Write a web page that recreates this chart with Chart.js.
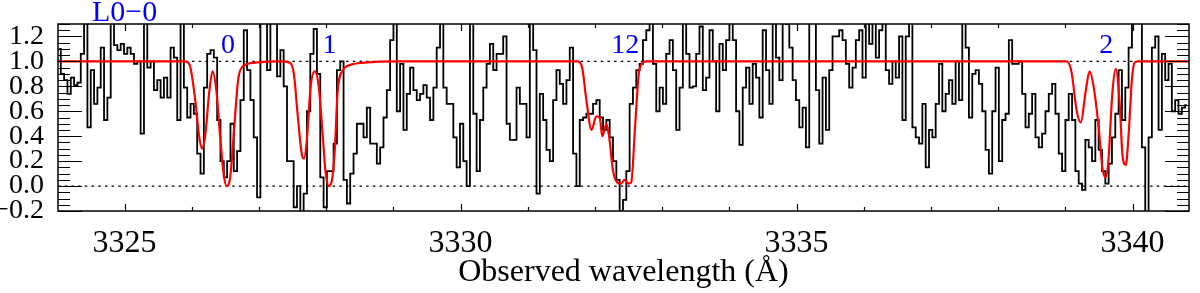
<!DOCTYPE html>
<html>
<head>
<meta charset="utf-8">
<script src="https://cdn.jsdelivr.net/npm/chart.js@4.4.1/dist/chart.umd.min.js"></script>
<style>
  html, body { margin: 0; padding: 0; background: #fff; }
  #wrap { width: 1200px; height: 293px; }
</style>
</head>
<body>
<div id="wrap"><canvas id="spec"></canvas></div>
<script>
// observed spectrum, linear dispersion (Angstrom per pixel)
const waveStart = 3324.027;
const waveStep = 0.0495;
const flux = [
  1.10, 0.90, 0.85, 0.74, 0.87, 0.81, 0.83, 1.06, 1.40, 0.47,
  0.93, 0.66, 0.79, 1.11, 0.53, 0.71, 1.40, 1.13, 1.09, 1.14,
  1.06, 1.11, 1.06, 0.98, 1.00, 0.42, 1.40, 0.95, 1.00, 0.77,
  0.85, 0.71, 0.87, 0.71, 1.11, 1.03, 0.53, 1.40, 0.79, 0.55,
  0.66, 0.58, 0.26, 0.10, 0.79, 1.06, 1.09, 1.03, 0.53, 0.20,
  0.07, 0.20, 0.50, 0.12, 0.28, 0.69, 1.25, 0.93, 0.69, 0.39,
  -0.09, 1.40, 1.40, 0.93, 1.40, 1.35, 0.88, 1.09, 0.80, 0.20,
  0.20, -0.17, 0.00, -0.22, -0.06, 0.60, 1.06, 1.26, 0.90, 0.07,
  -0.17, 0.12, 0.12, 0.34, 0.93, 1.00, 0.05, -0.14, 0.10, 0.26,
  0.50, 0.50, 0.39, 0.63, 0.34, 0.34, 0.18, 0.31, 0.55, 0.77,
  1.17, 1.40, 0.60, 0.98, 0.45, 0.74, 0.95, 0.77, 0.69, 0.74,
  0.81, 0.71, 0.53, 0.79, 1.11, 1.40, 0.79, 0.66, 0.66, 0.39,
  0.15, 0.50, 0.20, 0.00, 1.40, 0.58, 0.12, 0.53, 0.79, 0.98,
  1.14, 0.93, 1.06, 1.06, 1.20, 0.50, 0.37, 0.37, 0.79, 0.66,
  0.66, 0.39, 1.40, 1.09, -0.06, 0.74, 0.53, 0.29, 0.20, 0.69,
  0.93, 0.82, 0.66, 0.85, 1.11, 0.26, 0.00, 0.53, 0.55, 0.58,
  0.58, 0.66, 0.69, 0.55, 0.45, 0.53, 0.39, 0.20, 0.05, -0.20,
  -0.11, 0.12, 0.66, 0.79, 0.93, 0.98, 1.17, 1.25, 1.35, 0.98,
  0.60, 0.79, 0.66, 1.06, 1.17, 0.93, 0.45, 0.79, 1.35, 1.06,
  0.79, 0.80, 1.06, 1.28, 0.77, 0.87, 1.25, 1.00, 0.60, 1.14,
  0.93, 1.17, 1.40, 1.17, 0.60, 0.33, 0.79, 0.95, 0.66, 0.98,
  0.87, 0.55, 1.25, 0.93, 0.66, 1.40, 1.03, 0.85, 1.40, 1.30,
  1.11, 0.85, 0.69, 0.47, 0.63, 0.31, 1.40, 1.40, 0.77, 0.34,
  0.87, 0.45, 0.93, 1.20, 1.20, 1.25, 1.17, 0.98, 0.79, 0.95,
  1.17, 1.25, 0.87, 1.40, 1.14, 1.40, 1.03, 1.25, 1.40, 0.93,
  0.82, 1.00, 0.87, 1.20, 0.53, 1.20, 1.40, 0.47, 0.39, 0.34,
  0.66, 0.15, 0.45, 0.39, 0.66, 0.98, 0.60, 0.74, 0.85, 0.66,
  1.00, 0.69, 1.40, 1.11, 0.55, 0.90, 0.93, 0.82, 0.60, 0.29,
  0.10, 0.60, 0.95, 0.20, 0.53, 0.58, 1.17, 0.98, 0.98, 1.00,
  0.74, 0.47, 0.58, 0.74, 0.39, 0.31, 0.42, 0.60, 0.74, 0.82,
  0.58, 0.26, 0.12, 0.53, 0.74, 0.53, 0.12, 0.02, -0.03, 0.37,
  0.31, 0.20, 0.53, 0.29, 0.12, 0.02, 0.18, 0.39, 0.58, 0.93,
  0.53, 0.79, 1.11, 1.40, 1.40, 1.40, 0.31, -0.22, 0.39, 1.11,
  1.20, 0.45, 1.06, 0.85, 0.98, 0.60, 0.69, 0.58, 0.63, 0.65
];

// H2 absorption model (red curve)
const modelWave = [
  3324.01, 3325.90, 3325.97, 3326.05, 3326.11, 3326.15, 3326.20, 3326.26, 3326.31, 3326.37,
  3326.43, 3326.48, 3326.52, 3326.57, 3326.63, 3326.69, 3326.76, 3326.94, 3327.31, 3327.46,
  3327.52, 3327.58, 3327.64, 3327.67, 3327.71, 3327.77, 3327.83, 3327.89, 3327.95, 3327.99,
  3328.04, 3328.08, 3328.13, 3328.17, 3328.25, 3328.35, 3328.57, 3329.09, 3331.74, 3331.81,
  3331.87, 3331.95, 3332.02, 3332.07, 3332.11, 3332.17, 3332.21, 3332.27, 3332.33, 3332.39,
  3332.44, 3332.50, 3332.54, 3332.60, 3332.66, 3332.76, 3339.02, 3339.09, 3339.17, 3339.23,
  3339.30, 3339.36, 3339.42, 3339.50, 3339.55, 3339.60, 3339.64, 3339.70, 3339.75, 3339.81,
  3339.85, 3339.90, 3339.94, 3339.99, 3340.03, 3340.09, 3340.90
];
const modelFlux = [
  1.00, 1.00, 0.97, 0.70, 0.40, 0.30, 0.40, 0.75, 0.92, 0.75,
  0.35, 0.08, 0.00, 0.06, 0.45, 0.85, 0.96, 0.99, 1.00, 0.99,
  0.90, 0.55, 0.25, 0.22, 0.35, 0.80, 0.92, 0.80, 0.40, 0.12,
  0.00, 0.03, 0.30, 0.75, 0.93, 0.97, 0.99, 1.00, 1.00, 0.95,
  0.70, 0.45, 0.56, 0.55, 0.40, 0.50, 0.40, 0.12, 0.03, 0.02,
  0.05, 0.02, 0.03, 0.50, 0.93, 1.00, 1.00, 0.92, 0.60, 0.51,
  0.75, 0.92, 0.80, 0.45, 0.15, 0.07, 0.20, 0.75, 0.94, 0.65,
  0.25, 0.17, 0.40, 0.85, 0.99, 1.00, 1.00
];

// transition labels
const lineNames = ['L0\u22120', '0', '1', '12', '2'];
const lineWaves = [3325.0, 3326.54, 3328.05, 3332.45, 3339.61];
const lineLevels = [1.39, 1.13, 1.13, 1.13, 1.13];

const xMin = 3324.01, xMax = 3340.84;
const yMin = -0.2, yMax = 1.3;
const xTicks = [3325, 3330, 3335, 3340];
const yTicks = [-0.2, 0.0, 0.2, 0.4, 0.6, 0.8, 1.0, 1.2];
const refLevels = [0, 1];

const SERIF = "'Liberation Serif', 'Times New Roman', serif";

const specData = flux.map((f, i) => ({ x: waveStart + i * waveStep, y: f }));
const modelData = modelWave.map((w, i) => ({ x: w, y: modelFlux[i] }));

const refSets = refLevels.map(lv => ({
    data: [{ x: xMin, y: lv }, { x: xMax, y: lv }],
    borderColor: '#000',
    borderWidth: 1.2,
    borderDash: [2.5, 4.2],
    pointRadius: 0,
    order: 3
}));

// frame, inward ticks, blue transition labels
const framePlugin = {
    id: 'frame',
    afterDraw(chart) {
        const { ctx, chartArea: a, scales } = chart;
        const xs = scales.x, ys = scales.y;
        ctx.save();
        ctx.strokeStyle = '#000';
        ctx.lineWidth = 1.5;
        ctx.strokeRect(a.left, a.top, a.right - a.left, a.bottom - a.top);

        ctx.lineWidth = 1.2;
        ctx.beginPath();
        // y ticks, minor every 0.05
        for (let k = 0; k <= 30; k++) {
            const v = yMin + k * 0.05;
            if (v > yMax + 1e-6) break;
            const py = Math.round(ys.getPixelForValue(v)) + 0.5;
            const len = (k % 4 === 0) ? 24 : 12;
            ctx.moveTo(a.left, py); ctx.lineTo(a.left + len, py);
            ctx.moveTo(a.right, py); ctx.lineTo(a.right - len, py);
        }
        // x ticks, minor every 1 A
        for (let w = 3324; w <= 3341; w++) {
            if (w < xMin || w > xMax) continue;
            const px = Math.round(xs.getPixelForValue(w)) + 0.5;
            const len = (w % 5 === 0) ? 7 : 4;
            ctx.moveTo(px, a.bottom); ctx.lineTo(px, a.bottom - len);
            ctx.moveTo(px, a.top); ctx.lineTo(px, a.top + len);
        }
        ctx.stroke();

        ctx.fillStyle = '#0000ff';
        ctx.textAlign = 'center';
        ctx.textBaseline = 'middle';
        lineNames.forEach((name, i) => {
            ctx.font = (i === 0 ? '30px ' : '28px ') + SERIF;
            ctx.fillText(name, xs.getPixelForValue(lineWaves[i]), ys.getPixelForValue(lineLevels[i]));
        });
        ctx.restore();
    }
};

new Chart(document.getElementById('spec'), {
    type: 'line',
    data: {
        datasets: [
            {
                data: specData,
                borderColor: '#000',
                borderWidth: 1.8,
                stepped: 'middle',
                pointRadius: 0,
                order: 2
            },
            {
                data: modelData,
                borderColor: '#ff0000',
                borderWidth: 2.2,
                cubicInterpolationMode: 'monotone',
                pointRadius: 0,
                order: 1
            },
            ...refSets
        ]
    },
    options: {
        responsive: true,
        maintainAspectRatio: false,
        animation: false,
        layout: { padding: { top: 24, right: 11, left: 0, bottom: 0 } },
        plugins: { legend: { display: false }, tooltip: { enabled: false } },
        scales: {
            x: {
                type: 'linear',
                min: xMin,
                max: xMax,
                grid: { display: false },
                border: { display: false },
                afterBuildTicks: s => { s.ticks = xTicks.map(v => ({ value: v })); },
                afterFit: s => { s.height = 82; },
                ticks: {
                    color: '#000',
                    padding: 5,
                    maxRotation: 0,
                    autoSkip: false,
                    font: { family: SERIF, size: 32 },
                    callback: v => String(v)
                },
                title: {
                    display: true,
                    text: 'Observed wavelength (\u00c5)',
                    color: '#000',
                    font: { family: SERIF, size: 32 },
                    padding: { top: 0, bottom: 1 }
                }
            },
            y: {
                min: yMin,
                max: yMax,
                grid: { display: false },
                border: { display: false },
                afterBuildTicks: s => { s.ticks = yTicks.map(v => ({ value: v })); },
                afterFit: s => { s.width = 58; },
                ticks: {
                    color: '#000',
                    padding: 6,
                    autoSkip: false,
                    font: { family: SERIF, size: 28 },
                    callback: v => v.toFixed(1).replace('-', '\u2212')
                }
            }
        }
    },
    plugins: [framePlugin]
});
</script>
</body>
</html>
